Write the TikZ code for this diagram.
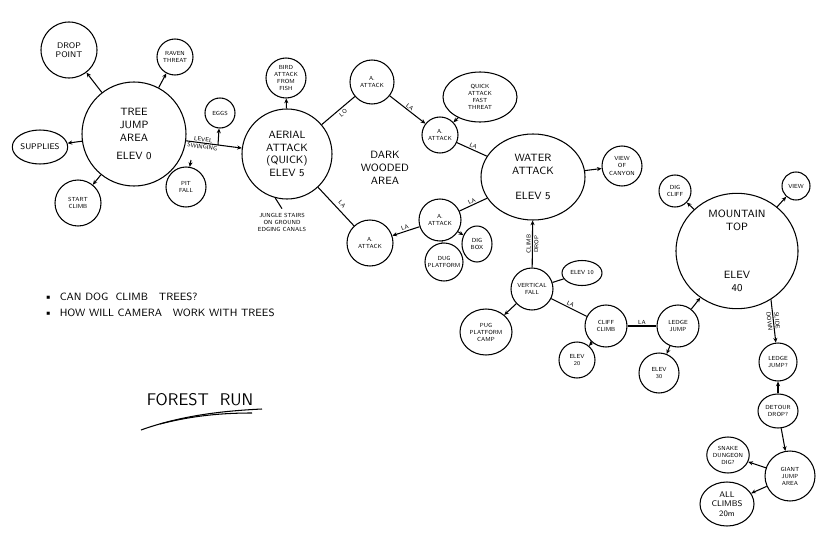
\documentclass[tikz,border=0pt]{standalone}
\usetikzlibrary{arrows.meta,shapes.geometric}

\tikzset{
    pen/.style={line width=0.9pt},
    spot/.style={pen, draw, circle, inner sep=0pt, align=center, minimum size=#1*0.6mm, font=\sffamily\tiny},
    blob/.style 2 args={pen, draw, ellipse, inner sep=0pt, align=center, minimum width=#1*0.3mm, minimum height=#2*0.3mm, font=\sffamily\tiny},
    link/.style={pen, -{Stealth[length=4pt,width=3.5pt]}},
    wire/.style={pen},
    tag/.style={font=\sffamily\tiny, sloped, midway, above, inner sep=1pt},
}

\begin{document}
\begin{tikzpicture}[x=0.3mm, y=-0.3mm]
    \fill[white] (0,0) rectangle (819,538);
    \useasboundingbox (0,0) rectangle (819,538);

    \node[spot=52, font=\sffamily\small] (tree) at (134,134) {TREE\\JUMP\\AREA\\[4pt]ELEV 0};
    \node[spot=28, font=\sffamily\scriptsize] (drop) at (69,50) {DROP\\POINT};
    \node[spot=18] (raven) at (175,57) {RAVEN\\THREAT};
    \node[blob={50}{34}, font=\sffamily\scriptsize] (supplies) at (40,147) {SUPPLIES};
    \node[spot=23] (start) at (78,203) {START\\CLIMB};
    \node[spot=15] (eggs) at (220,113) {EGGS};
    \node[spot=20] (pit) at (186,187) {PIT\\FALL};
    \coordinate (eggfork) at (218,145);
    \coordinate (pitfork) at (191,160);

    \node[spot=45, font=\sffamily\small] (aerial) at (287,154) {AERIAL\\ATTACK\\(QUICK)\\ELEV 5};
    \node[spot=20] (bird) at (286,78) {BIRD\\ATTACK\\FROM\\FISH};
    \node[font=\sffamily\tiny, align=center] (stairs) at (282,222) {JUNGLE STAIRS\\ON GROUND\\EDGING CANALS};
    \node[spot=22] (atop) at (372,82) {A.\\ATTACK};
    \node[blob={74}{50}] (quick) at (480,97) {QUICK\\ATTACK\\FAST\\THREAT};
    \node[spot=18] (amid) at (440,135) {A.\\ATTACK};
    \node[spot=21] (alow) at (440,220) {A.\\ATTACK};
    \node[spot=23] (aleft) at (370,243) {A.\\ATTACK};
    \node[spot=19] (dugplat) at (444,262) {DUG\\PLATFORM};
    \node[blob={30}{36}] (digbox) at (477,244) {DIG\\BOX};
    \node[font=\sffamily\small, align=center] (dark) at (385,168) {DARK\\WOODED\\AREA};

    \node[blob={104}{86}, font=\sffamily\small] (water) at (533,177) {WATER\\ATTACK\\[10pt]ELEV 5};
    \node[spot=20] (view) at (622,166) {VIEW\\OF\\CANYON};
    \node[spot=21] (vert) at (532,289) {VERTICAL\\FALL};
    \node[blob={40}{25}] (elevten) at (582,273) {ELEV 10};
    \node[blob={52}{46}] (pug) at (486,332) {PUG\\PLATFORM\\CAMP};
    \node[spot=21] (cliff) at (606,326) {CLIFF\\CLIMB};
    \node[spot=18] (elevtwenty) at (577,360) {ELEV\\20};
    \node[spot=21] (ledge) at (678,326) {LEDGE\\JUMP};
    \node[spot=20] (elevthirty) at (659,373) {ELEV\\30};

    \node[blob={122}{106}, font=\sffamily\small] (mount) at (737,251) {MOUNTAIN\\TOP\\[30pt]ELEV\\40};
    \node[spot=16] (digcliff) at (675,191) {DIG\\CLIFF};
    \node[spot=14] (viewtop) at (796,186) {VIEW};
    \node[spot=19] (ledgetwo) at (778,362) {LEDGE\\JUMP?};
    \node[blob={40}{34}] (detour) at (778,411) {DETOUR\\DROP?};
    \node[spot=25] (giant) at (790,476) {GIANT\\JUMP\\AREA};
    \node[blob={42}{36}] (snake) at (728,455) {SNAKE\\DUNGEON\\DIG?};
    \node[blob={54}{44}, font=\sffamily\scriptsize] (climbs) at (727,504) {ALL\\CLIMBS\\20m};

    \node[font=\sffamily\small, anchor=west] (noteone) at (40,297) {\textbullet\ \ CAN DOG \ CLIMB \ \ TREES?};
    \node[font=\sffamily\small, anchor=west] (notetwo) at (40,313) {\textbullet\ \ HOW WILL CAMERA \ \ WORK WITH TREES};
    \node[font=\sffamily\Large] (title) at (200,400) {FOREST \ RUN};
    \draw[pen] (141,430) .. controls (180,416) and (220,411) .. (262,409);
    \draw[pen] (160,424) .. controls (195,415) and (225,413) .. (252,413);

    \draw[link] (tree) -- (drop);
    \draw[link] (tree) -- (raven);
    \draw[link] (tree) -- (supplies);
    \draw[link] (tree) -- (start);
    \draw[link] (tree) -- (aerial) node[tag, pos=0.3]{LEVEL} node[tag, pos=0.3, below]{SWINGING};
    \draw[link] (eggfork) -- (eggs);
    \draw[link] (pitfork) -- (pit);

    \draw[link] (aerial) -- (bird);
    \draw[wire] (aerial.255) -- (stairs.north);
    \draw[wire] (aerial) -- (atop) node[tag, pos=0.55, below=1pt]{LO};
    \draw[link] (atop) -- (amid) node[tag]{LA};
    \draw[link] (quick) -- (amid);
    \draw[wire] (amid) -- (water) node[tag]{LA};
    \draw[wire] (water) -- (alow) node[tag]{LA};
    \draw[link] (alow) -- (aleft) node[tag]{LA};
    \draw[wire] (aerial) -- (aleft) node[tag, pos=0.55, above=2pt]{LA};
    \draw[link] (alow) -- (digbox);
    \draw[wire] (alow) -- (dugplat);

    \draw[link] (water) -- (view);
    \draw[link] (vert) -- (water) node[tag]{CLIMB} node[tag, below]{DROP};
    \draw[wire] (vert) -- (elevten);
    \draw[link] (vert) -- (pug);
    \draw[wire] (vert) -- (cliff) node[tag]{LA};
    \draw[wire] (cliff) -- (ledge) node[tag]{LA};
    \draw[link] (cliff) -- (elevtwenty);
    \draw[link] (ledge) -- (elevthirty);
    \draw[link] (ledge) -- (mount);

    \draw[link] (mount) -- (digcliff);
    \draw[link] (mount) -- (viewtop);
    \draw[link] (mount.-55) -- (ledgetwo) node[tag]{SLIDE} node[tag, below]{DOWN};
    \draw[link] (detour) -- (ledgetwo);
    \draw[link] (detour) -- (giant);
    \draw[link] (giant) -- (snake);
    \draw[link] (giant) -- (climbs);
\end{tikzpicture}
\end{document}
